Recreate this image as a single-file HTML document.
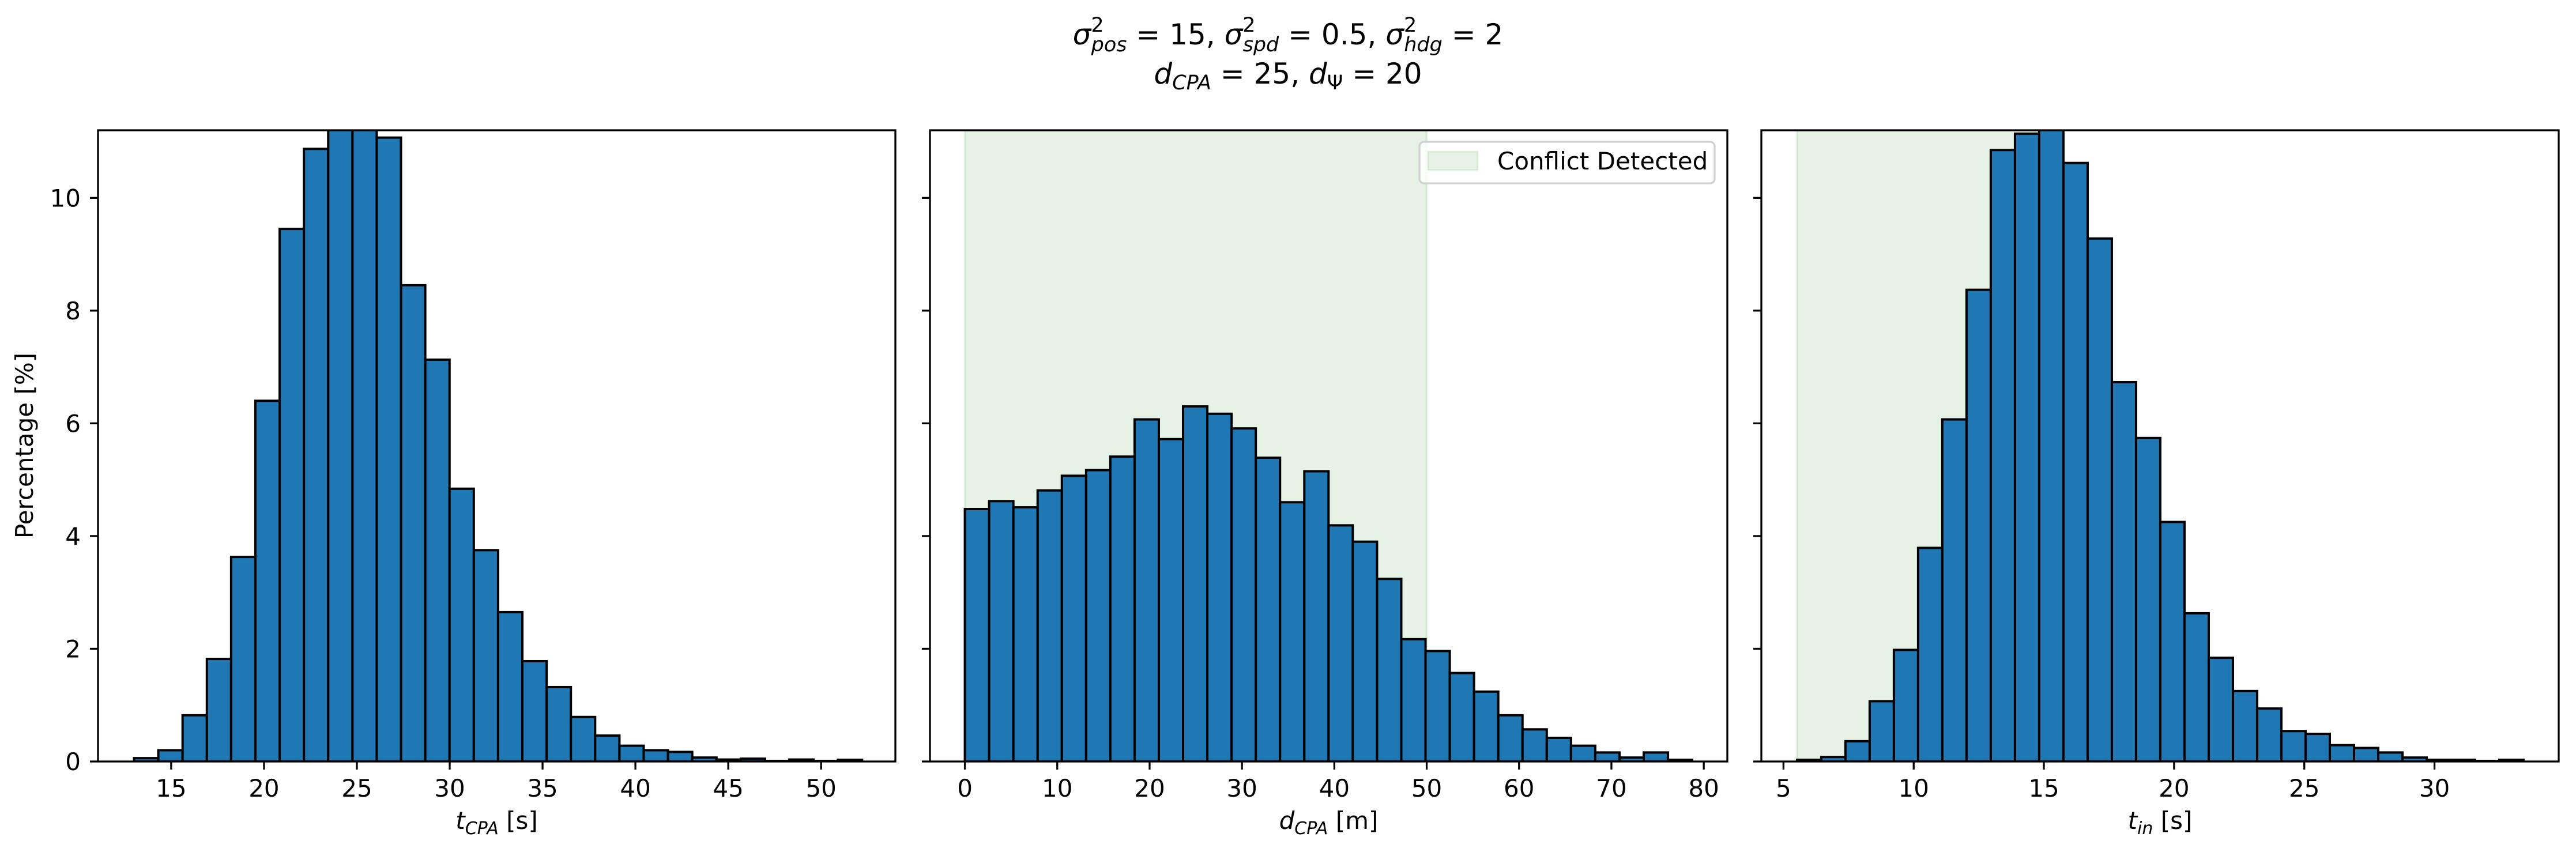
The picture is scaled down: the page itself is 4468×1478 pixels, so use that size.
<!DOCTYPE html>
<html><head><meta charset="utf-8"><style>
html,body{margin:0;padding:0;background:#fff;}
svg{display:block;font-family:"DejaVu Sans","Liberation Sans",sans-serif;}
</style></head><body>
<svg id="fig" width="4468" height="1478" viewBox="0 0 4468 1478" xmlns="http://www.w3.org/2000/svg">
<rect width="4468" height="1478" fill="#fff"/>
<g font-size="50" fill="#000" text-anchor="middle">
<text x="2234" y="77"><tspan font-style="italic">σ</tspan><tspan font-size="35" dy="-22">2</tspan><tspan font-size="35" font-style="italic" dx="-22" dy="34">pos</tspan><tspan dy="-12"> = 15, </tspan><tspan font-style="italic">σ</tspan><tspan font-size="35" dy="-22">2</tspan><tspan font-size="35" font-style="italic" dx="-22" dy="34">spd</tspan><tspan dy="-12"> = 0.5, </tspan><tspan font-style="italic">σ</tspan><tspan font-size="35" dy="-22">2</tspan><tspan font-size="35" font-style="italic" dx="-22" dy="34">hdg</tspan><tspan dy="-12"> = 2</tspan></text>
<text x="2234" y="145"><tspan font-style="italic">d</tspan><tspan font-size="35" font-style="italic" dy="10">CPA</tspan><tspan dy="-10"> = 25, </tspan><tspan font-style="italic">d</tspan><tspan font-size="35" dy="10">Ψ</tspan><tspan dy="-10"> = 20</tspan></text>
</g>
<g id="plots"></g>
</svg>
<script>
// ---- data ----
const yTicks = [0, 2, 4, 6, 8, 10];
const yMax = 11.2;

const tcpaStart = 13.0;
const tcpaWidth = 1.307;
const tcpaValues = [0.06,0.2,0.82,1.82,3.63,6.4,9.45,10.87,11.3,11.3,11.07,8.45,7.13,4.84,3.75,2.65,1.78,1.32,0.79,0.46,0.28,0.2,0.17,0.07,0.035,0.05,0.01,0.035,0.01,0.03];
const tcpaTicks = [15,20,25,30,35,40,45,50];

const dcpaStart = 0;
const dcpaWidth = 2.625;
const dcpaValues = [4.48,4.62,4.51,4.81,5.07,5.17,5.41,6.07,5.72,6.30,6.17,5.91,5.39,4.60,5.15,4.19,3.90,3.24,2.17,1.96,1.57,1.24,0.82,0.57,0.42,0.28,0.16,0.07,0.16,0.03];
const dcpaTicks = [0,10,20,30,40,50,60,70,80];
const dcpaSpan = [0, 50];

const tinStart = 5.52;
const tinWidth = 0.93;
const tinValues = [0.03,0.08,0.36,1.07,1.98,3.79,6.07,8.37,10.85,11.14,11.3,10.62,9.28,6.73,5.74,4.25,2.63,1.84,1.25,0.94,0.54,0.49,0.29,0.24,0.16,0.07,0.03,0.03,0.01,0.03];
const tinTicks = [5,10,15,20,25,30];
const tinSpan = [5.52, 15];

// ---- layout ----
const NS = "http://www.w3.org/2000/svg";
const TOP = 226, BOTTOM = 1321, W = 1383;
const root = document.getElementById('plots');
function el(tag, attrs, parent){
  const e = document.createElementNS(NS, tag);
  for (const k in attrs) e.setAttribute(k, attrs[k]);
  (parent||root).appendChild(e);
  return e;
}
const yScale = v => BOTTOM - v / yMax * (BOTTOM - TOP);

const panels = [
  {name:'tcpa', left:170, xmin:11.06, xmax:54.0, start:tcpaStart, width:tcpaWidth, values:tcpaValues, ticks:tcpaTicks, label:['t','CPA',' [s]'], span:null, yLabels:true},
  {name:'dcpa', left:1613, xmin:-3.78, xmax:82.55, start:dcpaStart, width:dcpaWidth, values:dcpaValues, ticks:dcpaTicks, label:['d','CPA',' [m]'], span:dcpaSpan, yLabels:false, legend:true},
  {name:'tin', left:3055, xmin:4.15, xmax:34.77, start:tinStart, width:tinWidth, values:tinValues, ticks:tinTicks, label:['t','in',' [s]'], span:tinSpan, yLabels:false}
];

panels.forEach(p => {
  const xScale = v => p.left + (v - p.xmin) / (p.xmax - p.xmin) * W;
  const g = el('g', {});
  
  
  const clipId = 'clip-' + p.name;
  const cp = el('clipPath', {id: clipId}, g);
  el('rect', {x:p.left, y:TOP, width:W, height:BOTTOM-TOP}, cp);
  const plot = el('g', {'clip-path':'url(#'+clipId+')'}, g);
  if (p.span) {
    const s = el('rect', {x:xScale(p.span[0]), y:TOP-5, width:xScale(p.span[1])-xScale(p.span[0]), height:BOTTOM-TOP+10, fill:'rgba(0,128,0,0.1)', stroke:'rgba(0,128,0,0.1)', 'stroke-width':4}, plot);
    
    
  }
  p.values.forEach((v, i) => {
    const x0 = xScale(p.start + i * p.width), x1 = xScale(p.start + (i+1) * p.width);
    const b = el('rect', {x:x0, y:yScale(v), width:x1-x0, height:BOTTOM-yScale(v), fill:'#1f77b4', stroke:'#000', 'stroke-width':4}, plot);
    
    
  });
  // spines
  const frame = el('rect', {x:p.left, y:TOP, width:W, height:BOTTOM-TOP, fill:'none', stroke:'#000', 'stroke-width':3.3}, g);
  
  
  // x ticks
  p.ticks.forEach(t => {
    const x = xScale(t);
    el('line', {x1:x, x2:x, y1:BOTTOM, y2:BOTTOM+14, stroke:'#000', 'stroke-width':3.3}, g);
    const tl = el('text', {x:x, y:1382, 'font-size':42, 'text-anchor':'middle'}, g);
    tl.textContent = t;
    
    
  });
  // y ticks
  yTicks.forEach(t => {
    const y = yScale(t);
    el('line', {x1:p.left-14, x2:p.left, y1:y, y2:y, stroke:'#000', 'stroke-width':3.3}, g);
    if (p.yLabels) {
      const tl = el('text', {x:p.left-30, y:y+15, 'font-size':42, 'text-anchor':'end'}, g);
      tl.textContent = t;
      
      
    }
  });
  // x label
  const xl = el('text', {x:p.left + W/2, y:1438, 'font-size':42, 'text-anchor':'middle'}, g);
  
  
  const a = el('tspan', {'font-style':'italic'}, xl); a.textContent = p.label[0];
  const b2 = el('tspan', {'font-style':'italic', 'font-size':30, dy:9}, xl); b2.textContent = p.label[1];
  const c = el('tspan', {dy:-9}, xl); c.textContent = p.label[2];
  if (p.yLabels) {
    const yl = el('text', {x:0, y:0, 'font-size':42, 'text-anchor':'middle', transform:'translate(57,773) rotate(-90)'}, g);
    yl.textContent = 'Percentage [%]';
    
    
  }
  if (p.legend) {
    const lg = el('g', {}, g);
    
    
    el('rect', {x:2462, y:246, width:512, height:72, rx:8, fill:'rgba(255,255,255,0.8)', stroke:'#d0d0d0', 'stroke-width':3.3}, lg);
    const sw = el('rect', {x:2477, y:263, width:86, height:32, fill:'rgba(0,128,0,0.1)', stroke:'rgba(0,128,0,0.1)', 'stroke-width':3}, lg);
    
    
    const lt = el('text', {x:2597, y:294, 'font-size':42}, lg);
    lt.textContent = 'Conflict Detected';
    
    
  }
});
</script>
</body></html>
